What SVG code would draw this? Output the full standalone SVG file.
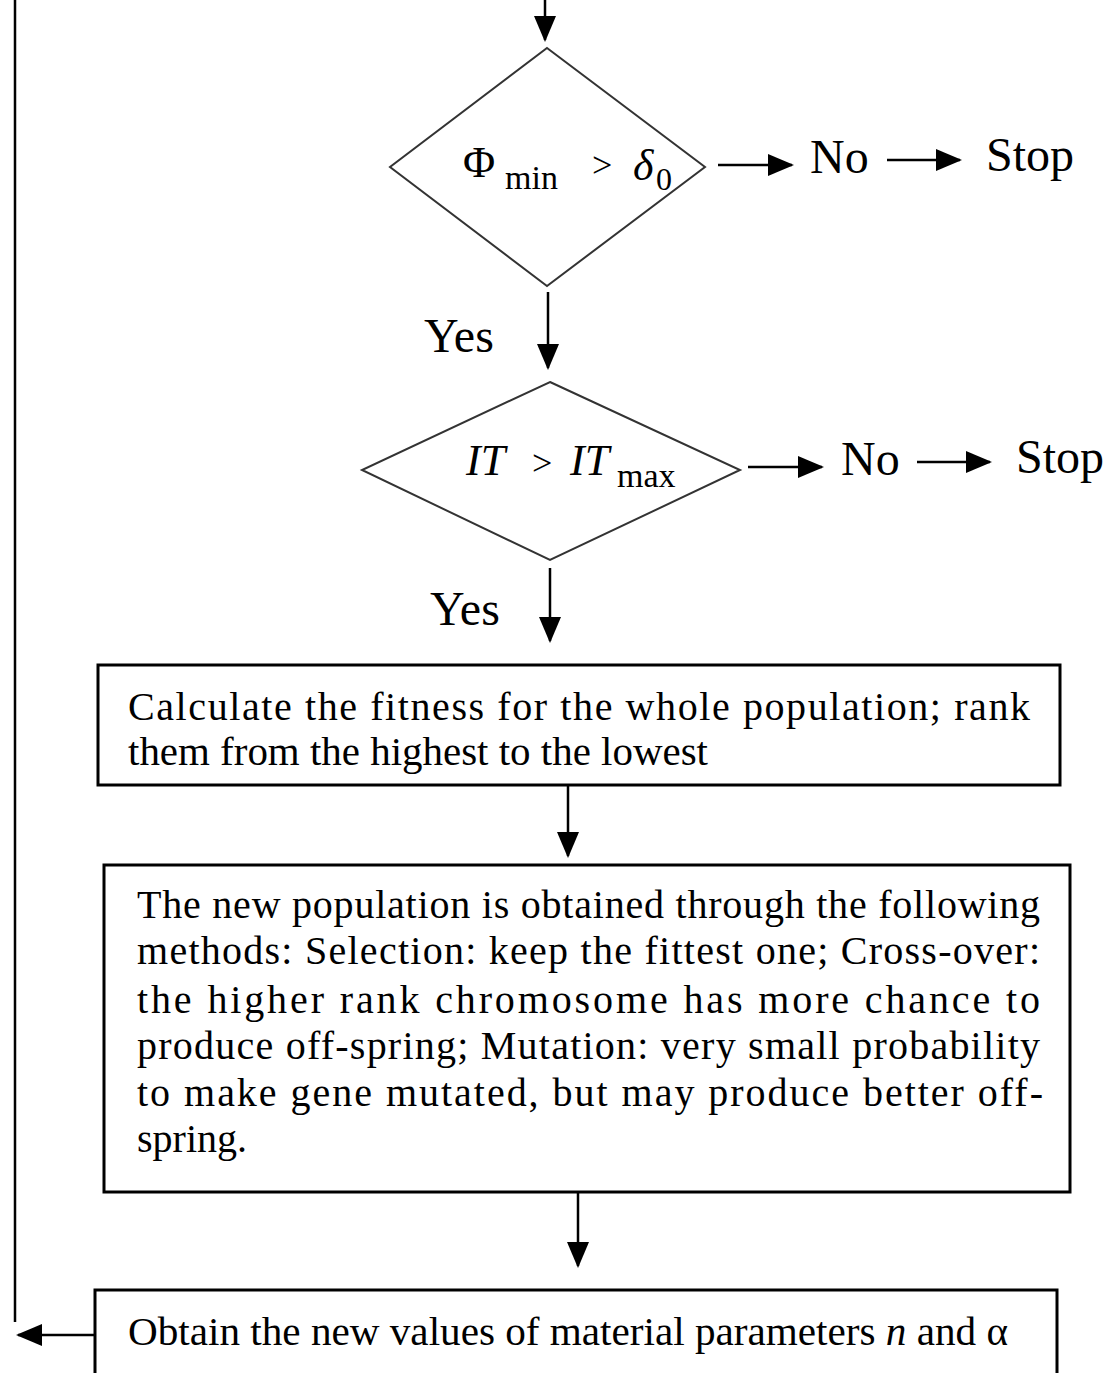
<svg xmlns="http://www.w3.org/2000/svg" width="1111" height="1373" viewBox="0 0 1111 1373">
<defs>
<marker id="ah" markerUnits="userSpaceOnUse" markerWidth="26" markerHeight="22" refX="24" refY="11" orient="auto"><path d="M0,0 L26,11 L0,22 z" fill="#000"/></marker>
<style>
.t{font-family:"Liberation Serif","Times New Roman",serif;fill:#000}
.c{stroke:#000;stroke-width:2.5;fill:none}
.d{stroke:#333;stroke-width:2;fill:#fff}
.b{stroke:#000;stroke-width:3;fill:#fff}
</style>
</defs>
<rect width="1111" height="1373" fill="#fff"/>
<g id="connectors">
<line class="c" x1="545" y1="0" x2="545" y2="40" marker-end="url(#ah)"/>
<line class="c" x1="718" y1="165" x2="792" y2="165" marker-end="url(#ah)"/>
<line class="c" x1="887" y1="160" x2="960" y2="160" marker-end="url(#ah)"/>
<line class="c" x1="548" y1="292" x2="548" y2="368" marker-end="url(#ah)"/>
<line class="c" x1="748" y1="467" x2="822" y2="467" marker-end="url(#ah)"/>
<line class="c" x1="917" y1="462" x2="990" y2="462" marker-end="url(#ah)"/>
<line class="c" x1="550" y1="568" x2="550" y2="641" marker-end="url(#ah)"/>
<line class="c" x1="568" y1="785" x2="568" y2="856" marker-end="url(#ah)"/>
<line class="c" x1="578" y1="1192" x2="578" y2="1266" marker-end="url(#ah)"/>
<line class="c" x1="95" y1="1335" x2="18" y2="1335" marker-end="url(#ah)"/>
<line class="c" x1="15" y1="0" x2="15" y2="1322"/>
</g>
<g id="decision1">
<polygon class="d" points="547,48 705,167 547,286 390,167"/>
<text class="t" x="463" y="177" font-size="44">Φ</text>
<text class="t" x="505" y="189" font-size="34">min</text>
<text class="t" x="592" y="177" font-size="36">&gt;</text>
<text class="t" x="633" y="180" font-size="44" font-style="italic">δ</text>
<text class="t" x="656" y="190" font-size="32">0</text>
</g>
<g id="no1"><text class="t" x="810" y="173" font-size="48">No</text></g>
<g id="stop1"><text class="t" x="986" y="171" font-size="48">Stop</text></g>
<g id="yes1"><text class="t" x="424" y="352" font-size="48">Yes</text></g>
<g id="decision2">
<polygon class="d" points="550,382 740,470 550,560 362,470"/>
<text class="t" x="466" y="475" font-size="44" font-style="italic">IT</text>
<text class="t" x="532" y="475" font-size="36">&gt;</text>
<text class="t" x="570" y="475" font-size="44" font-style="italic">IT</text>
<text class="t" x="617" y="487" font-size="34">max</text>
</g>
<g id="no2"><text class="t" x="841" y="475" font-size="48">No</text></g>
<g id="stop2"><text class="t" x="1016" y="473" font-size="48">Stop</text></g>
<g id="yes2"><text class="t" x="430" y="625" font-size="48">Yes</text></g>
<g id="box1">
<rect class="b" x="98" y="665" width="962" height="120"/>
<text class="t" x="128" y="720" font-size="40" textLength="902" lengthAdjust="spacing">Calculate the fitness for the whole population; rank</text>
<text class="t" x="128" y="765" font-size="40" textLength="580" lengthAdjust="spacingAndGlyphs">them from the highest to the lowest</text>
</g>
<g id="box2">
<rect class="b" x="104" y="865" width="966" height="327"/>
<text class="t" x="137" y="918" font-size="40" textLength="903" lengthAdjust="spacing">The new population  is obtained through the following</text>
<text class="t" x="137" y="964" font-size="40" textLength="903" lengthAdjust="spacing">methods: Selection: keep the fittest one; Cross-over:</text>
<text class="t" x="137" y="1013" font-size="40" textLength="903" lengthAdjust="spacing">the higher rank chromosome has more chance to</text>
<text class="t" x="137" y="1059" font-size="40" textLength="903" lengthAdjust="spacing">produce off-spring; Mutation: very small probability</text>
<text class="t" x="137" y="1106" font-size="40" textLength="906" lengthAdjust="spacing">to make gene mutated, but may produce better off-</text>
<text class="t" x="137" y="1152" font-size="40">spring.</text>
</g>
<g id="box3">
<rect class="b" x="95" y="1290" width="962" height="100"/>
<text class="t" x="128" y="1345" font-size="40" textLength="880" lengthAdjust="spacingAndGlyphs">Obtain the new values of material parameters <tspan font-style="italic">n</tspan> and α</text>
</g>
</svg>
